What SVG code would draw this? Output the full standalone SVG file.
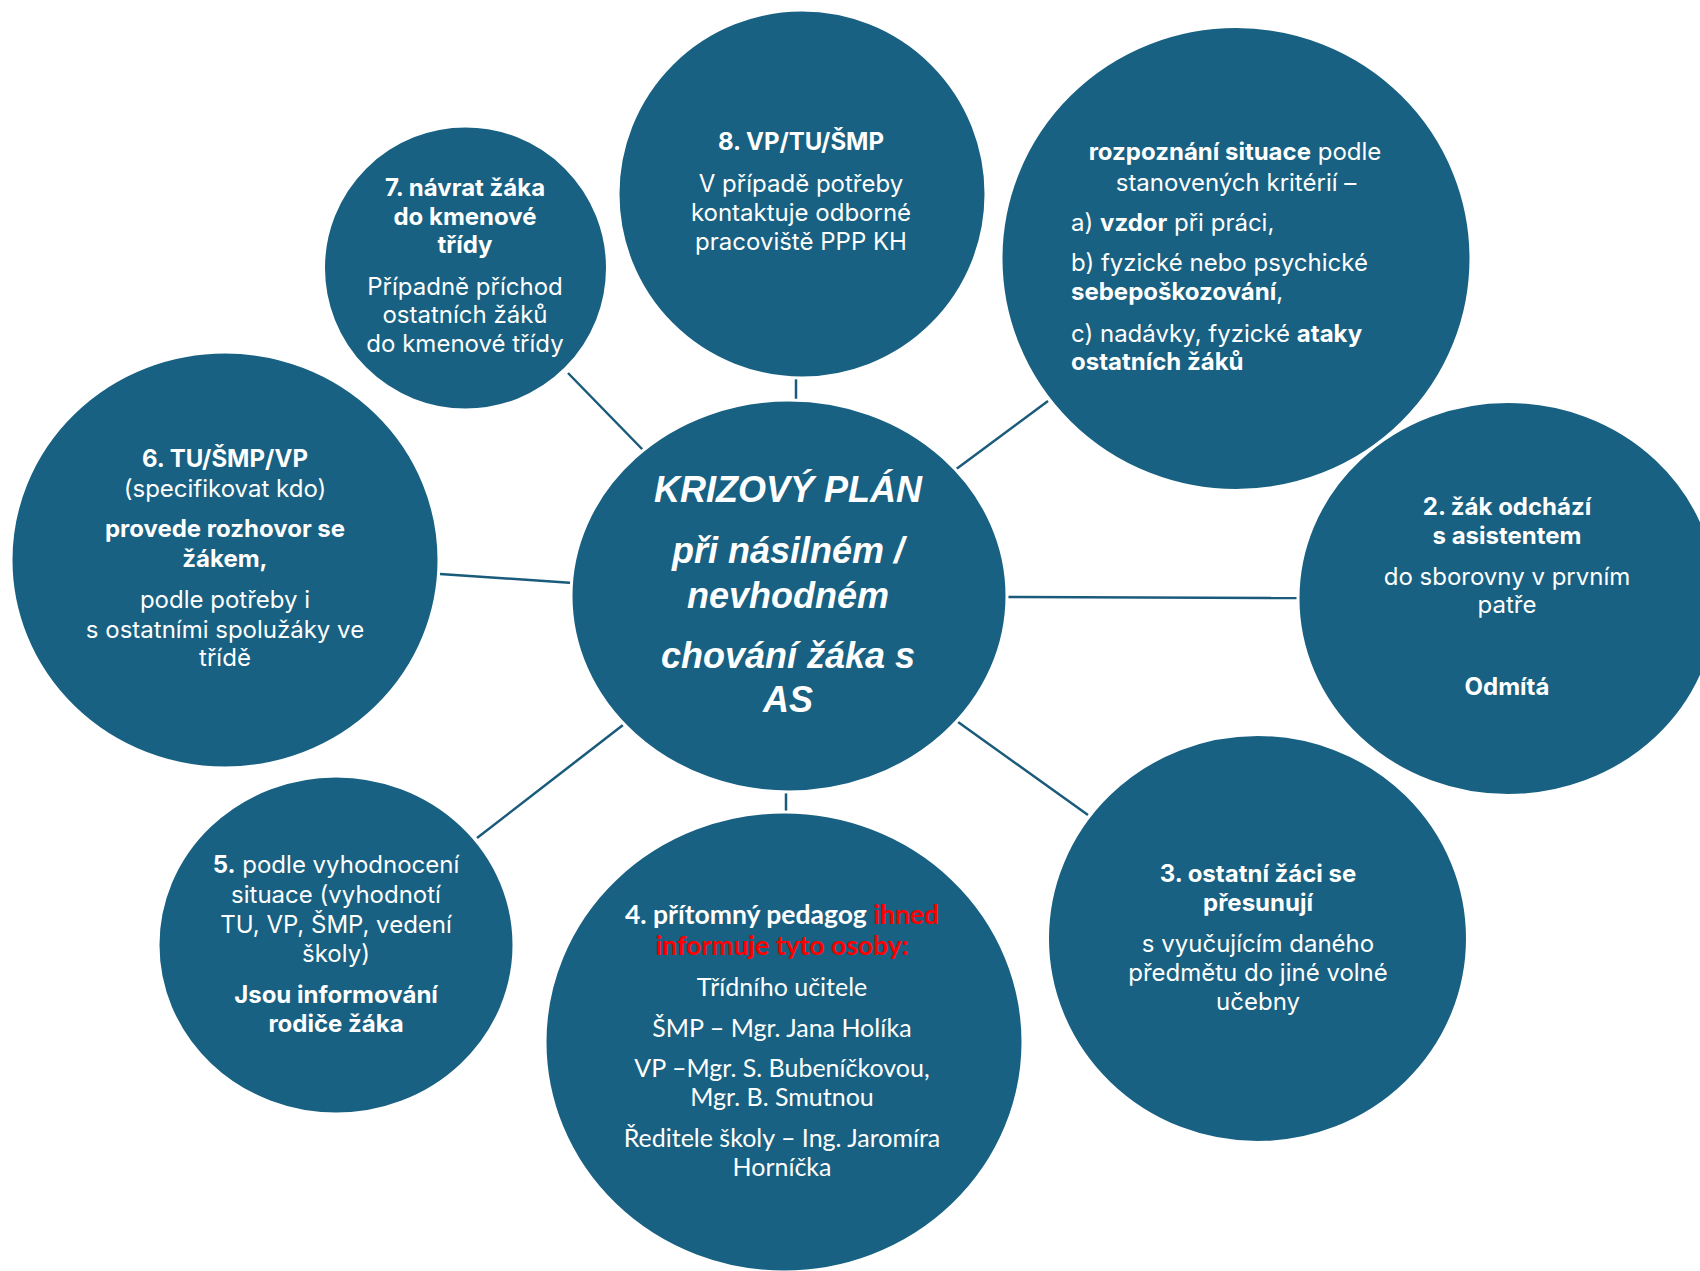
<svg xmlns="http://www.w3.org/2000/svg" width="1700" height="1271" viewBox="0 0 1700 1271">
<style>
.node{fill:#186182;stroke:#ffffff;stroke-width:3}
.conn{stroke:#1a5a7a;stroke-width:2.5;fill:none}
.t{font-family:Inter,"Noto Sans","Liberation Sans",sans-serif;font-size:24px;fill:#ffffff;text-anchor:middle}
.l{text-anchor:start}
.b{font-weight:700}
.c{font-family:Lato,"Liberation Sans",sans-serif;font-size:25px;fill:#ffffff;text-anchor:middle}
.cb{font-size:26.5px;font-weight:700}
.red{fill:#ff0000}
.main{font-family:"Liberation Sans",Arial,sans-serif;font-size:36px;font-weight:700;font-style:italic;fill:#ffffff;text-anchor:middle}
</style>
<rect width="1700" height="1271" fill="#ffffff"/>
<g id="connectors">
<line class="conn" x1="796" y1="378" x2="796" y2="402"/>
<line class="conn" x1="568" y1="373" x2="643" y2="450"/>
<line class="conn" x1="440" y1="574" x2="573" y2="583"/>
<line class="conn" x1="477" y1="838" x2="623" y2="725"/>
<line class="conn" x1="786" y1="791" x2="786" y2="814"/>
<line class="conn" x1="958" y1="722" x2="1088" y2="815"/>
<line class="conn" x1="1005" y1="597" x2="1299" y2="598"/>
<line class="conn" x1="955" y1="470" x2="1048" y2="401"/>
</g>
<g id="node-center">
<ellipse class="node" cx="789" cy="596" rx="218" ry="196"/>
<text class="main" x="788" y="502">KRIZOVÝ PLÁN</text>
<text class="main" x="788" y="563">při násilném /</text>
<text class="main" x="788" y="608">nevhodném</text>
<text class="main" x="788" y="668">chování žáka s</text>
<text class="main" x="788" y="712">AS</text>
</g>
<g id="node-8">
<circle class="node" cx="802" cy="194" r="184"/>
<text class="t b" x="801" y="150">8. VP/TU/ŠMP</text>
<text class="t" x="801" y="192">V případě potřeby</text>
<text class="t" x="801" y="221">kontaktuje odborné</text>
<text class="t" x="801" y="250">pracoviště PPP KH</text>
</g>
<g id="node-7">
<circle class="node" cx="465.5" cy="268" r="142"/>
<text class="t b" x="465" y="196">7. návrat žáka</text>
<text class="t b" x="465" y="225">do kmenové</text>
<text class="t b" x="465" y="253">třídy</text>
<text class="t" x="465" y="295">Případně příchod</text>
<text class="t" x="465" y="323">ostatních žáků</text>
<text class="t" x="465" y="352">do kmenové třídy</text>
</g>
<g id="node-1">
<ellipse class="node" cx="1236" cy="258.5" rx="235" ry="232"/>
<text class="t" x="1235" y="160"><tspan class="b">rozpoznání situace</tspan> podle</text>
<text class="t" x="1236" y="191">stanovených kritérií –</text>
<text class="t l" x="1071" y="231">a) <tspan class="b">vzdor</tspan> při práci,</text>
<text class="t l" x="1071" y="271">b) fyzické nebo psychické</text>
<text class="t l" x="1071" y="300"><tspan class="b">sebepoškozování</tspan>,</text>
<text class="t l" x="1071" y="342">c) nadávky, fyzické <tspan class="b">ataky</tspan></text>
<text class="t l b" x="1071" y="370">ostatních žáků</text>
</g>
<g id="node-3">
<ellipse class="node" cx="1257.5" cy="938.5" rx="210" ry="204"/>
<text class="t b" x="1258" y="882">3. ostatní žáci se</text>
<text class="t b" x="1258" y="911">přesunují</text>
<text class="t" x="1258" y="952">s vyučujícím daného</text>
<text class="t" x="1258" y="981">předmětu do jiné volné</text>
<text class="t" x="1258" y="1010">učebny</text>
</g>
<g id="node-2">
<ellipse class="node" cx="1508" cy="598.5" rx="210" ry="197"/>
<text class="t b" x="1507" y="515">2. žák odchází</text>
<text class="t b" x="1507" y="544">s asistentem</text>
<text class="t" x="1507" y="585">do sborovny v prvním</text>
<text class="t" x="1507" y="613">patře</text>
<text class="t b" x="1507" y="695">Odmítá</text>
</g>
<g id="node-6">
<ellipse class="node" cx="225" cy="560" rx="214" ry="208"/>
<text class="t b" x="225" y="467">6. TU/ŠMP/VP</text>
<text class="t" x="225" y="497">(specifikovat kdo)</text>
<text class="t b" x="225" y="537">provede rozhovor se</text>
<text class="t b" x="225" y="567">žákem,</text>
<text class="t" x="225" y="608">podle potřeby i</text>
<text class="t" x="225" y="638">s ostatními spolužáky ve</text>
<text class="t" x="225" y="666">třídě</text>
</g>
<g id="node-5">
<ellipse class="node" cx="336" cy="945" rx="178" ry="169"/>
<text class="t" x="336" y="873"><tspan class="b">5.</tspan> podle vyhodnocení</text>
<text class="t" x="336" y="903">situace (vyhodnotí</text>
<text class="t" x="336" y="933">TU, VP, ŠMP, vedení</text>
<text class="t" x="336" y="962">školy)</text>
<text class="t b" x="336" y="1003">Jsou informování</text>
<text class="t b" x="336" y="1032">rodiče žáka</text>
</g>
<g id="node-4">
<ellipse class="node" cx="784" cy="1042" rx="239" ry="230"/>
<text class="c cb" x="782" y="924">4. přítomný pedagog <tspan class="red">ihned</tspan></text>
<text class="c cb red" x="782" y="955">informuje tyto osoby:</text>
<text class="c" x="782" y="996">Třídního učitele</text>
<text class="c" x="782" y="1037">ŠMP – Mgr. Jana Holíka</text>
<text class="c" x="782" y="1077">VP –Mgr. S. Bubeníčkovou,</text>
<text class="c" x="782" y="1106">Mgr. B. Smutnou</text>
<text class="c" x="782" y="1147">Ředitele školy – Ing. Jaromíra</text>
<text class="c" x="782" y="1176">Horníčka</text>
</g>
</svg>
